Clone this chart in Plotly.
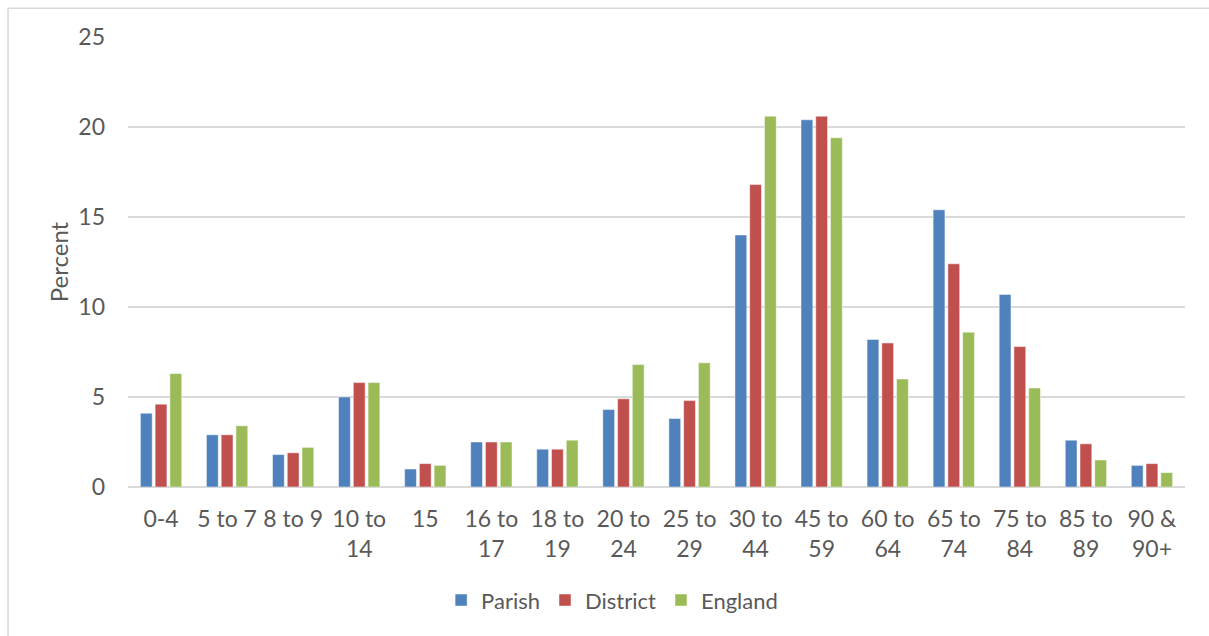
import plotly.graph_objects as go

# Age bands (x categories)
age_bands = ["0-4", "5 to 7", "8 to 9", "10 to<br>14", "15", "16 to<br>17", "18 to<br>19",
             "20 to<br>24", "25 to<br>29", "30 to<br>44", "45 to<br>59", "60 to<br>64",
             "65 to<br>74", "75 to<br>84", "85 to<br>89", "90 &<br>90+"]

# Percent of population in each age band
parish = [4.1, 2.9, 1.8, 5.0, 1.0, 2.5, 2.1, 4.3, 3.8, 14.0, 20.4, 8.2, 15.4, 10.7, 2.6, 1.2]
district = [4.6, 2.9, 1.9, 5.8, 1.3, 2.5, 2.1, 4.9, 4.8, 16.8, 20.6, 8.0, 12.4, 7.8, 2.4, 1.3]
england = [6.3, 3.4, 2.2, 5.8, 1.2, 2.5, 2.6, 6.8, 6.9, 20.6, 19.4, 6.0, 8.6, 5.5, 1.5, 0.8]

y_ticks = [0, 5, 10, 15, 20, 25]

FONT = "Lato, Open Sans, sans-serif"
TEXT = "#595959"
SIZE = 23

fig = go.Figure()
for name, vals, col in [("Parish", parish, "#4F81BD"),
                        ("District", district, "#C0504D"),
                        ("England", england, "#9BBB59")]:
    fig.add_trace(go.Bar(x=age_bands, y=vals, name=name,
                         marker=dict(color=col, line=dict(width=0.8, color="rgba(255,255,255,0.6)"))))

fig.update_layout(
    width=1209, height=636,
    margin=dict(l=128, r=24, t=37, b=149),
    paper_bgcolor="white", plot_bgcolor="white",
    barmode="group", bargap=0.33, bargroupgap=0.2,
    font=dict(family=FONT, size=SIZE, color=TEXT),
    showlegend=True,
    legend=dict(orientation="h", x=0.458, xanchor="center", y=-0.205, yanchor="top",
                font=dict(size=22, color=TEXT), itemwidth=30, traceorder="normal"),
    xaxis=dict(showgrid=False, showline=False, tickfont=dict(size=SIZE, color=TEXT),
               ticks="", ticklabelstandoff=16),
    yaxis=dict(range=[0, 25], tickvals=y_ticks, showgrid=True, gridcolor="#d9d9d9", gridwidth=1.5,
               zeroline=True, zerolinecolor="#d9d9d9", zerolinewidth=1.5,
               showline=False, ticks="", ticklabelstandoff=22,
               tickfont=dict(size=SIZE, color=TEXT),
               title=dict(text="Percent", font=dict(size=24, color=TEXT), standoff=2)),
    shapes=[dict(type="rect", xref="paper", yref="paper",
                 x0=-0.1135, x1=1.03, y0=-0.35, y1=1.064,
                 line=dict(color="#d9d9d9", width=1.5), fillcolor="rgba(0,0,0,0)", layer="below")],
)

fig.write_html("out.html")
